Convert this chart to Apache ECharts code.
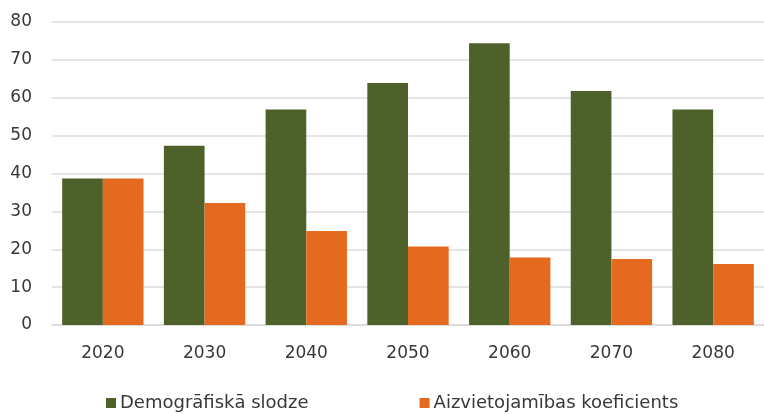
<!DOCTYPE html>
<html>
<head>
<meta charset="utf-8">
<script src="https://cdn.jsdelivr.net/npm/echarts@6/dist/echarts.min.js"></script>
<style>
html,body{margin:0;padding:0;background:#fff;}
#chart{width:764px;height:414px;}
</style>
</head>
<body>
<div id="chart"></div>
<script>
const categories = ['2020','2030','2040','2050','2060','2070','2080'];
const demografiskaSlodze = [38.7, 47.3, 56.9, 63.9, 74.4, 61.8, 56.9];
const aizvietojamibasKoef = [38.7, 32.2, 24.8, 20.7, 17.8, 17.4, 16.1];
const seriesNames = ['Demogrāfiskā slodze', 'Aizvietojamības koeficients'];

const chart = echarts.init(document.getElementById('chart'), null, {renderer:'canvas'});
const font = 'DejaVu Sans';
chart.setOption({
  animation:false,
  backgroundColor:'#ffffff',
  textStyle:{fontFamily:font},
  grid:{left:52, top:22, width:719, bottom:89, containLabel:false},
  legend:{
    left:106, top:394, padding:0, itemWidth:10, itemHeight:10, itemGap:111,
    icon:'rect',
    textStyle:{fontFamily:font, fontSize:18, color:'#383838', padding:[0,0,0,-1]},
    data:seriesNames
  },
  xAxis:{
    type:'category', data:categories,
    axisLine:{lineStyle:{color:'#d9d9d9', width:1.5}},
    axisTick:{show:false},
    axisLabel:{margin:20, fontFamily:font, fontSize:17, color:'#383838'}
  },
  yAxis:{
    type:'value', min:0, max:80, interval:10,
    axisLine:{show:false}, axisTick:{show:false},
    splitLine:{lineStyle:{color:'#dcdcdc', width:1.5}},
    axisLabel:{margin:20, fontFamily:font, fontSize:17, color:'#383838'}
  },
  series:[
    {name:seriesNames[0], type:'bar', data:demografiskaSlodze, barGap:'0%', barCategoryGap:'20%',
     itemStyle:{color:'#4f612b'}},
    {name:seriesNames[1], type:'bar', data:aizvietojamibasKoef, barGap:'0%', barCategoryGap:'20%',
     itemStyle:{color:'#e46a20'}}
  ]
});
</script>
</body>
</html>
